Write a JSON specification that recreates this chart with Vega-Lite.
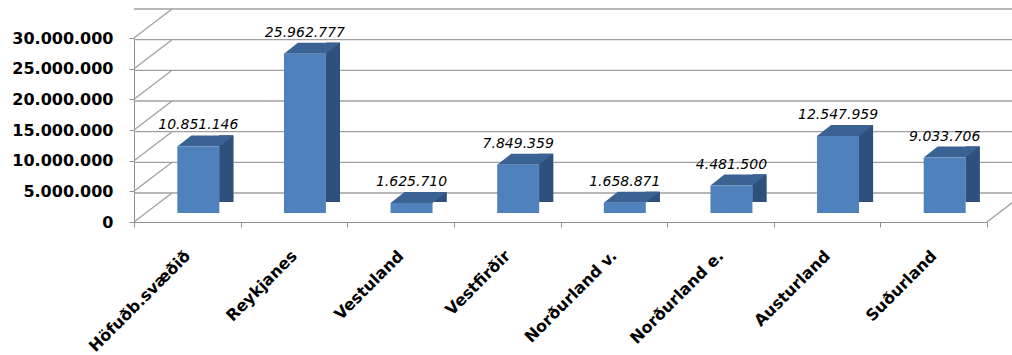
{
  "$schema": "https://vega.github.io/schema/vega-lite/v6.json",
  "width": 853,
  "height": 184,
  "autosize": {"type": "none"},
  "padding": {"left": 134, "top": 38, "right": 25, "bottom": 133},
  "background": "white",
  "config": {
    "locale": {"number": {"decimal": ",", "thousands": ".", "grouping": [3], "currency": ["", ""]}},
    "view": {"stroke": null}
  },
  "datasets": {
    "grid": [
      {"value": 0}, {"value": 5000000}, {"value": 10000000}, {"value": 15000000},
      {"value": 20000000}, {"value": 25000000}, {"value": 30000000}
    ],
    "regions": [
      {"region": "Höfuðb.svæðið", "value": 10851146},
      {"region": "Reykjanes", "value": 25962777},
      {"region": "Vestuland", "value": 1625710},
      {"region": "Vestfirðir", "value": 7849359},
      {"region": "Norðurland v.", "value": 1658871},
      {"region": "Norðurland e.", "value": 4481500},
      {"region": "Austurland", "value": 12547959},
      {"region": "Suðurland", "value": 9033706}
    ]
  },
  "encoding": {
    "y": {
      "field": "value", "type": "quantitative",
      "scale": {"domain": [0, 30000000], "nice": false},
      "axis": {
        "title": null, "values": [0, 5000000, 10000000, 15000000, 20000000, 25000000, 30000000],
        "tickCount": 7,
        "format": ",d", "grid": false, "tickSize": 5, "labelPadding": 16, "labelOverlap": false,
        "domainColor": "#909090", "tickColor": "#909090",
        "labelFont": "DejaVu Sans", "labelFontWeight": "bold", "labelFontSize": 16, "labelColor": "#000000"
      }
    }
  },
  "layer": [
    {
      "data": {"name": "regions"},
      "mark": {"type": "bar", "size": 14, "color": "#2f507a", "xOffset": 39, "yOffset": -20, "y2Offset": -14},
      "encoding": {
        "x": {
          "field": "region", "type": "nominal", "sort": null,
          "scale": {"paddingInner": 0, "paddingOuter": 0},
          "axis": {
            "title": null, "labelAngle": -45, "labelAlign": "right", "labelBaseline": "middle",
            "labelPadding": 26, "tickBand": "extent", "tickSize": 5, "labelOverlap": false,
            "domainColor": "#909090", "tickColor": "#909090",
            "labelFont": "DejaVu Sans", "labelFontWeight": "bold", "labelFontSize": 16, "labelColor": "#000000"
          }
        }
      }
    },
    {
      "data": {"name": "grid"},
      "mark": {"type": "rule", "color": "#a0a0a0", "strokeWidth": 1.3, "xOffset": 38, "x2Offset": 38, "yOffset": -29},
      "encoding": {}
    },
    {
      "data": {"name": "grid"},
      "mark": {"type": "rule", "color": "#a0a0a0", "strokeWidth": 1.3, "y2Offset": -29},
      "encoding": {
        "x": {"value": 0},
        "x2": {"value": 38},
        "y2": {"field": "value"}
      }
    },
    {
      "data": {"name": "grid"},
      "transform": [{"filter": "datum.value == 0"}],
      "mark": {"type": "rule", "color": "#a0a0a0", "strokeWidth": 1.3, "y2Offset": -29},
      "encoding": {
        "x": {"value": 853},
        "x2": {"value": 891},
        "y2": {"field": "value"}
      }
    },
    {
      "data": {"name": "regions"},
      "mark": {"type": "bar", "size": 14, "color": "#2f507a", "xOffset": 39, "yOffset": -20, "y2Offset": -14},
      "encoding": {
        "x": {"field": "region", "type": "nominal", "sort": null}
      }
    },
    {
      "data": {"name": "regions"},
      "mark": {"type": "point", "filled": true, "opacity": 1, "strokeWidth": 0, "color": "#3a6293", "size": 3136, "shape": "M-1,0.196L0.5,0.196L1,-0.196L-0.5,-0.196Z", "xOffset": 18, "yOffset": -14.5},
      "encoding": {
        "x": {"field": "region", "type": "nominal", "sort": null}
      }
    },
    {
      "data": {"name": "regions"},
      "mark": {"type": "bar", "size": 42, "color": "#4f81bd", "xOffset": 11, "yOffset": -9, "y2Offset": -9},
      "encoding": {
        "x": {"field": "region", "type": "nominal", "sort": null}
      }
    },
    {
      "data": {"name": "regions"},
      "mark": {"type": "text", "font": "DejaVu Sans", "fontStyle": "italic", "fontSize": 14, "color": "#000000", "baseline": "alphabetic", "xOffset": 11, "dy": -26},
      "encoding": {
        "x": {"field": "region", "type": "nominal", "sort": null},
        "text": {"field": "value", "type": "quantitative", "format": ",d"}
      }
    }
  ]
}
